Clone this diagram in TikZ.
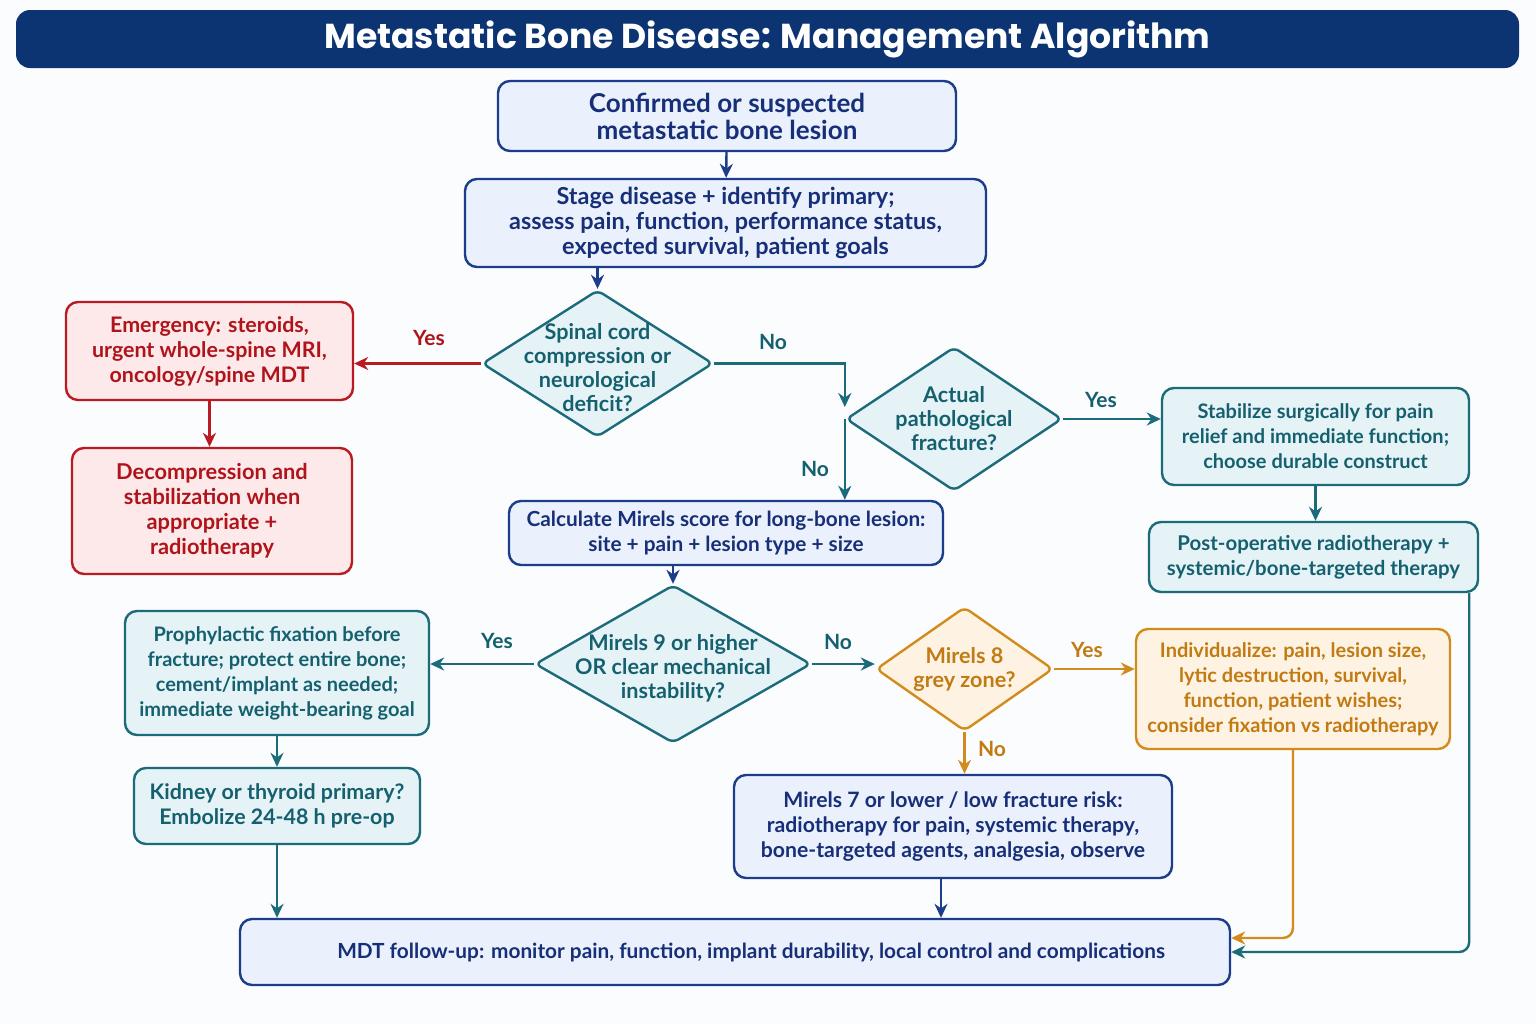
\documentclass[tikz,border=0pt]{standalone}
\usepackage{fontspec}
\setmainfont{Lato}
\newfontfamily\titlefont{Poppins}
\usetikzlibrary{arrows.meta,shapes.geometric}
\definecolor{navy}{HTML}{0D3472}
\definecolor{navyline}{HTML}{1C3C8C}
\definecolor{navytext}{HTML}{172F78}
\definecolor{bluefill}{HTML}{EAF1FC}
\definecolor{tealline}{HTML}{1B6B7B}
\definecolor{tealtext}{HTML}{15606F}
\definecolor{tealfill}{HTML}{E5F3F6}
\definecolor{redline}{HTML}{BA1A22}
\definecolor{redtext}{HTML}{B0141B}
\definecolor{redfill}{HTML}{FDE9E9}
\definecolor{orangeline}{HTML}{D28C1E}
\definecolor{orangetext}{HTML}{C27A12}
\definecolor{orangefill}{HTML}{FEF3E3}
\definecolor{paper}{HTML}{FAFCFD}
\begin{document}
\begin{tikzpicture}[x=0.5pt,y=-0.5pt,
  box/.style={rounded corners=6pt, line width=1.2pt, align=center, inner sep=2pt,
    font=\bfseries\fontsize{10}{12.5}\selectfont},
  big/.style={font=\bfseries\fontsize{#1}{12.5}\selectfont},
  bluebox/.style={box, draw=navyline, fill=bluefill, text=navytext},
  tealbox/.style={box, draw=tealline, fill=tealfill, text=tealtext},
  redbox/.style={box, draw=redline, fill=redfill, text=redtext},
  orangebox/.style={box, draw=orangeline, fill=orangefill, text=orangetext},
  decision/.style={shape=diamond, line width=1.2pt, rounded corners=3pt, inner sep=0pt},
  dtext/.style={align=center, font=\bfseries\fontsize{10.8}{12}\selectfont},
  answer/.style={font=\bfseries\fontsize{10.5}{12}\selectfont},
  line/.style={line width=1.2pt, -{Stealth[length=7pt,width=6.5pt]}}]
\useasboundingbox (0,0) rectangle (1536,1024);
\fill[paper] (0,0) rectangle (1536,1024);
\node[rounded corners=7pt, fill=navy, text=white, minimum width=751.5pt, minimum height=29pt,
  font=\titlefont\bfseries\fontsize{17.3}{20}\selectfont] (title) at (767.5,39) {Metastatic Bone Disease: Management Algorithm};
\node[bluebox, minimum width=229pt, minimum height=35pt, font=\bfseries\fontsize{13}{13.5}\selectfont] (lesion) at (727,116) {Confirmed or suspected\\metastatic bone lesion};
\node[bluebox, big=11.7, minimum width=260.5pt, minimum height=44pt] (stage) at (725.5,223) {Stage disease + identify primary;\\assess pain, function, performance status,\\expected survival, patient goals};
\node[decision, draw=tealline, fill=tealfill, minimum width=115.5pt, minimum height=73.5pt] (spine) at (597.5,363.5) {};
\node[dtext, text=tealtext] (spinetext) at ([yshift=-2pt]spine) {Spinal cord\\compression or\\neurological\\deficit?};
\node[redbox, big=10.7, minimum width=143.5pt, minimum height=49pt] (emerg) at (209.5,351) {Emergency: steroids,\\urgent whole-spine MRI,\\oncology/spine MDT};
\node[redbox, big=10.9, minimum width=140pt, minimum height=63pt] (decomp) at (212,511) {Decompression and\\stabilization when\\appropriate +\\radiotherapy};
\node[decision, draw=tealline, fill=tealfill, minimum width=108pt, minimum height=72pt] (fract) at (954,419) {};
\node[dtext, text=tealtext] (fracttext) at (fract) {Actual\\pathological\\fracture?};
\node[tealbox, minimum width=153.5pt, minimum height=48.5pt] (stab) at (1315.5,436.5) {Stabilize surgically for pain\\relief and immediate function;\\choose durable construct};
\node[tealbox, big=10.2, minimum width=164.5pt, minimum height=35pt] (postop) at (1313.5,557) {Post-operative radiotherapy +\\systemic/bone-targeted therapy};
\node[bluebox, big=10.4, minimum width=217pt, minimum height=32pt] (calc) at (726,533) {Calculate Mirels score for long-bone lesion:\\site + pain + lesion type + size};
\node[decision, draw=tealline, fill=tealfill, minimum width=138pt, minimum height=79pt] (mirels) at (673,664) {};
\node[dtext, text=tealtext] (mirelstext) at ([yshift=-2pt]mirels) {Mirels 9 or higher\\OR clear mechanical\\instability?};
\node[tealbox, minimum width=152pt, minimum height=62pt] (proph) at (277,673) {Prophylactic fixation before\\fracture; protect entire bone;\\cement/implant as needed;\\immediate weight-bearing goal};
\node[tealbox, big=10.7, minimum width=143pt, minimum height=38pt] (kidney) at (277,806) {Kidney or thyroid primary?\\Embolize 24-48 h pre-op};
\node[decision, draw=orangeline, fill=orangefill, minimum width=88.5pt, minimum height=62pt] (grey) at (964.5,669) {};
\node[dtext, text=orangetext] (greytext) at (grey) {Mirels 8\\grey zone?};
\node[orangebox, minimum width=157pt, minimum height=60pt] (indiv) at (1293,689) {Individualize: pain, lesion size,\\lytic destruction, survival,\\function, patient wishes;\\consider fixation vs radiotherapy};
\node[bluebox, big=10.6, minimum width=219pt, minimum height=51.5pt] (low) at (953,826.5) {Mirels 7 or lower / low fracture risk:\\radiotherapy for pain, systemic therapy,\\bone-targeted agents, analgesia, observe};
\node[bluebox, big=10.4, minimum width=495pt, minimum height=33pt] (mdt) at (735,952) {\hspace{16pt}MDT follow-up: monitor pain, function, implant durability, local control and complications};
\draw[line, navyline] (lesion) -- (stage);
\draw[line, navyline] (spine.north |- stage.south) -- (spine.north);
\draw[line, redline] (spine.west) -- (spine.west -| emerg.east);
\draw[line, redline] (emerg) -- (emerg |- decomp.north);
\draw[line, tealline] (spine.east) -- (spine.east -| fract.west) -- ([yshift=6pt]fract.west);
\draw[line, tealline] (fract.west) -- (fract.west |- calc.north);
\draw[line, tealline] (fract.east) -- (fract.east -| stab.west);
\draw[line, tealline] (stab) -- (stab.south |- postop.north);
\draw[line, navyline] (mirels.north |- calc.south) -- (mirels.north);
\draw[line, tealline] (mirels.west) -- (mirels.west -| proph.east);
\draw[line, tealline] (proph) -- (kidney);
\draw[line, tealline] (kidney) -- (kidney.south |- mdt.north);
\draw[line, tealline] (mirels.east) -- (mirels.east -| grey.west);
\draw[line, orangeline] (grey.east) -- (grey.east -| indiv.west);
\draw[line, orangeline] (grey.south) -- (grey.south |- low.north);
\draw[line, navyline] ([xshift=-6pt]low.south) -- ([xshift=-6pt]low.south |- mdt.north);
\draw[line, orangeline, rounded corners=5pt] (indiv.south) |- ([yshift=7pt]mdt.east);
\draw[line, tealline, rounded corners=5pt] ([xshift=-5pt]postop.south east) |- (mdt.east);
\node[answer, text=redtext] (yesspine) at (429,338) {Yes};
\node[answer, text=tealtext] (nospine) at (773,342) {No};
\node[answer, text=tealtext] (nofract) at (815,469) {No};
\node[answer, text=tealtext] (yesfract) at (1101,400) {Yes};
\node[answer, text=tealtext] (yesmirels) at (497,641) {Yes};
\node[answer, text=tealtext] (nomirels) at (838,642) {No};
\node[answer, text=orangetext] (yesgrey) at (1087,650) {Yes};
\node[answer, text=orangetext] (nogrey) at (992,749) {No};
\end{tikzpicture}
\end{document}
